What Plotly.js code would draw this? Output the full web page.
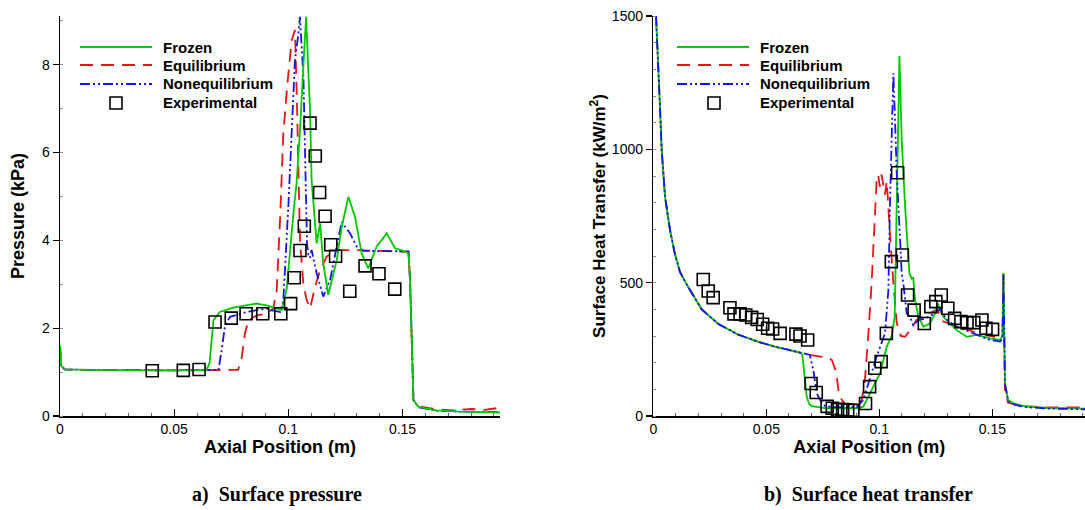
<!DOCTYPE html>
<html><head><meta charset="utf-8">
<script src="https://cdn.plot.ly/plotly-3.0.1.min.js"></script>
<style>html,body{margin:0;padding:0;background:#fff;} #chart{width:1085px;height:510px;}</style>
</head><body><div id="chart"></div>
<script>
// ---------- (a) Surface pressure, kPa ----------
var frozenPx = [0,0.0005,0.002,0.01,0.03,0.05,0.064,0.0655,0.0672,0.07,0.0759,0.0861,0.0905,0.0949,0.0971,0.0993,0.1007,0.1022,0.1036,0.1051,0.1066,0.1078,0.1088,0.1095,0.1102,0.1124,0.1139,0.1153,0.1175,0.1212,0.1234,0.1263,0.1292,0.1321,0.135,0.1387,0.1431,0.1467,0.1504,0.1526,0.1533,0.154,0.1548,0.157,0.165,0.175,0.185,0.193];
var frozenPy = [1.6,1.15,1.06,1.05,1.04,1.04,1.04,1.2,2.18,2.37,2.47,2.56,2.52,2.45,2.41,2.9,3.8,4.6,5.3,6.5,8.0,9.09,7.8,6.97,5.37,3.93,4.39,3.48,2.76,3.55,4.31,4.99,4.54,3.7,3.36,3.86,4.16,3.82,3.76,3.7,3.1,1.58,0.36,0.21,0.13,0.1,0.09,0.08];

var equilPx = [0,0.0005,0.002,0.01,0.05,0.072,0.078,0.0795,0.081,0.0825,0.0861,0.0905,0.0934,0.0949,0.0964,0.0978,0.0996,0.1015,0.1029,0.1037,0.1044,0.1051,0.1066,0.108,0.1095,0.1117,0.1139,0.1168,0.1212,0.13,0.14,0.1526,0.1533,0.154,0.1548,0.157,0.165,0.172,0.18,0.186,0.193];
var equilPy = [1.6,1.15,1.06,1.05,1.04,1.04,1.05,1.3,1.88,2.18,2.29,2.33,2.45,2.86,4.5,6.43,7.57,8.56,8.79,7.3,5.4,4.0,3.0,2.65,2.45,2.94,3.32,3.63,3.78,3.78,3.76,3.74,3.1,1.58,0.36,0.22,0.15,0.13,0.16,0.14,0.19];

var noneqPx = [0,0.0005,0.002,0.01,0.05,0.0694,0.0708,0.0723,0.0745,0.0818,0.0905,0.0934,0.0964,0.0978,0.1,0.1007,0.1029,0.1044,0.1051,0.1066,0.1072,0.1076,0.1082,0.1088,0.1095,0.1102,0.1124,0.1153,0.1183,0.1212,0.1234,0.127,0.13,0.1329,0.14,0.1526,0.1533,0.154,0.1548,0.157,0.165,0.175,0.185,0.193];
var noneqPy = [1.6,1.15,1.06,1.05,1.04,1.05,1.5,2.07,2.26,2.37,2.45,2.4,2.37,2.63,4.77,5.5,8.1,8.7,9.09,7.73,6.4,4.8,3.9,3.67,3.6,3.78,3.25,2.72,3.1,3.86,4.42,4.16,3.86,3.76,3.76,3.75,3.1,1.58,0.36,0.2,0.12,0.1,0.09,0.09];

var expPx = [0.0404,0.054,0.0609,0.0679,0.075,0.0815,0.0888,0.0967,0.101,0.1026,0.1051,0.107,0.1095,0.1118,0.1137,0.1161,0.1186,0.1207,0.1269,0.1336,0.1397,0.1466];
var expPy = [1.03,1.04,1.06,2.14,2.23,2.33,2.33,2.33,2.56,3.15,3.77,4.32,6.67,5.92,5.09,4.55,3.90,3.64,2.84,3.42,3.24,2.89];

// ---------- (b) Surface heat transfer, kW/m^2 ----------
var frozenQx = [0.0012,0.0022,0.003,0.0037,0.0052,0.0074,0.0095,0.0118,0.015,0.0214,0.0288,0.0376,0.0465,0.0538,0.06,0.0655,0.066,0.0668,0.0679,0.069,0.0701,0.0767,0.09,0.0929,0.095,0.0973,0.1003,0.1033,0.1055,0.1068,0.1077,0.1084,0.1089,0.1099,0.1114,0.1133,0.1143,0.115,0.1158,0.1173,0.1195,0.1224,0.1246,0.126,0.1272,0.1283,0.1342,0.1387,0.1431,0.149,0.1534,0.1545,0.1549,0.1553,0.1556,0.157,0.16,0.165,0.175,0.191];
var frozenQy = [1500,1335,1150,1000,822,697,610,540,490,400,345,305,278,260,248,237,225,150,72,45,37,29,29,35,70,110,160,260,300,372,800,1222,1350,1035,785,535,515,520,435,372,335,347,385,422,390,372,322,297,304,291,285,300,535,300,120,60,45,35,30,28];

var equilQx = [0.0012,0.0022,0.003,0.0037,0.0052,0.0074,0.0095,0.0118,0.015,0.0214,0.0288,0.0376,0.0465,0.0538,0.06,0.0655,0.0693,0.0745,0.0775,0.079,0.0805,0.0812,0.0819,0.0834,0.085,0.09,0.0922,0.0935,0.0944,0.0951,0.0966,0.098,0.0988,0.0995,0.1002,0.101,0.1018,0.1025,0.1033,0.104,0.1047,0.1062,0.1077,0.1095,0.1114,0.1136,0.1165,0.12,0.1235,0.1255,0.1283,0.135,0.1416,0.1534,0.1545,0.1549,0.1553,0.1556,0.157,0.1637,0.175,0.191];
var equilQy = [1500,1335,1150,1000,822,697,610,540,490,400,345,305,278,260,248,237,229,222,218,210,175,147,97,60,45,45,60,120,210,300,500,750,880,905,860,905,860,830,880,800,685,500,350,300,297,322,360,375,390,400,354,335,316,291,300,535,300,85,50,37,32,32];

var noneqQx = [0.0012,0.0022,0.003,0.0037,0.0052,0.0074,0.0095,0.0118,0.015,0.0214,0.0288,0.0376,0.0465,0.0538,0.06,0.0655,0.0693,0.0708,0.0723,0.0738,0.076,0.08,0.09,0.0929,0.0959,0.0988,0.1025,0.1033,0.104,0.1047,0.1055,0.1062,0.1068,0.1077,0.1092,0.1099,0.1106,0.1121,0.1136,0.115,0.1173,0.12,0.1235,0.1269,0.13,0.1342,0.1416,0.149,0.1534,0.1545,0.1549,0.1553,0.1556,0.157,0.16,0.165,0.175,0.191];
var noneqQy = [1500,1335,1150,1000,822,697,610,540,490,400,345,305,278,260,248,237,229,172,85,60,37,33,33,60,147,222,310,410,470,785,1100,1285,1150,910,660,535,500,385,372,340,360,365,380,400,360,335,310,285,279,290,530,300,120,55,42,33,28,25];

var expQx = [0.0221,0.0243,0.0265,0.0339,0.0357,0.0384,0.0409,0.0435,0.046,0.0484,0.0506,0.0528,0.0561,0.0631,0.0649,0.0683,0.0698,0.0721,0.0769,0.0792,0.0815,0.0838,0.086,0.0883,0.0939,0.0957,0.098,0.1008,0.1031,0.1053,0.1081,0.1102,0.1125,0.1154,0.1199,0.1228,0.125,0.1274,0.1303,0.1333,0.1361,0.1388,0.1418,0.1454,0.1472,0.1501];
var expQy = [512,469,444,406,383,383,379,370,362,344,329,326,310,307,300,285,122,88,36,29,25,24,22,21,47,110,179,204,310,579,912,604,454,397,347,410,429,454,404,366,354,350,350,360,329,325];

var legendNames = ['Frozen','Equilibrium','Nonequilibrium','Experimental'];
var captions = ['a)  Surface pressure','b)  Surface heat transfer'];

// ---------- styling ----------
var W = 1085, H = 510;
var GREEN = 'rgb(0,200,0)', RED = 'rgb(230,20,20)', BLUE = 'rgb(20,20,240)';
var DASH_EQ = '13px,8px';
var DASH_NE = '10px,3px,2px,3px,2px,3px';
var FONT = 'Liberation Sans, Arial, sans-serif';
function fx(p){return p/W;}
function fy(p){return 1-p/H;}

function lineTrace(x,y,color,dash,xa,ya,name){
  return {x:x,y:y,type:'scatter',mode:'lines',name:name,xaxis:xa,yaxis:ya,
    line:{color:color,width:1.8,dash:dash},hoverinfo:'skip'};
}
function expTrace(x,y,xa,ya){
  return {x:x,y:y,type:'scatter',mode:'markers',name:'Experimental',xaxis:xa,yaxis:ya,
    marker:{symbol:'square-open',size:12,color:'#000',line:{width:1.6,color:'#000'}},hoverinfo:'skip'};
}

var data = [
  lineTrace(equilPx,equilPy,RED,DASH_EQ,'x','y',legendNames[1]),
  lineTrace(noneqPx,noneqPy,BLUE,DASH_NE,'x','y',legendNames[2]),
  lineTrace(frozenPx,frozenPy,GREEN,'solid','x','y',legendNames[0]),
  expTrace(expPx,expPy,'x','y'),
  lineTrace(equilQx,equilQy,RED,DASH_EQ,'x2','y2',legendNames[1]),
  lineTrace(frozenQx,frozenQy,GREEN,'solid','x2','y2',legendNames[0]),
  lineTrace(noneqQx,noneqQy,BLUE,DASH_NE,'x2','y2',legendNames[2]),
  expTrace(expQx,expQy,'x2','y2')
];

var yDom = [fy(416), fy(16)];
function xAxis(dom, rng, anchor){
  return {domain:dom, range:rng, anchor:anchor, autorange:false,
    showline:true, linecolor:'#000', linewidth:1.5, mirror:false,
    showgrid:false, zeroline:false,
    ticks:'inside', ticklen:7, tickwidth:1.3, tickcolor:'#000',
    tickvals:[0,0.05,0.1,0.15], ticktext:['0','0.05','0.1','0.15'],
    minor:{ticks:'inside', ticklen:3, tickwidth:1, tickcolor:'#666', dtick:0.01, tick0:0, showgrid:false},
    tickfont:{family:FONT,size:14,color:'#000'},
    title:{text:'<b>Axial Position (m)</b>', font:{family:FONT,size:18,color:'#000'}, standoff:3},
    automargin:false, fixedrange:true};
}
function yAxis(rng, vals, texts, minorDt, title, tsize, stand, anchor){
  return {domain:yDom, range:rng, anchor:anchor, autorange:false,
    showline:true, linecolor:'#000', linewidth:1.5, mirror:false,
    showgrid:false, zeroline:false,
    ticks:'outside', ticklen:6, tickwidth:1.3, tickcolor:'#000',
    tickvals:vals, ticktext:texts,
    minor:{ticks:'inside', ticklen:3, tickwidth:1, tickcolor:'#888', dtick:minorDt, tick0:0, showgrid:false},
    tickfont:{family:FONT,size:14,color:'#000'},
    title:{text:title, font:{family:FONT,size:tsize,color:'#000'}, standoff:stand},
    automargin:false, fixedrange:true};
}

var shapes = [], annotations = [];
function addLegend(x0, x1, xt, xsq){
  var rows = [47,65,84,103];
  var styles = [[GREEN,'solid'],[RED,DASH_EQ],[BLUE,DASH_NE]];
  for (var i=0;i<3;i++){
    shapes.push({type:'line',xref:'paper',yref:'paper',x0:fx(x0),x1:fx(x1),y0:fy(rows[i]),y1:fy(rows[i]),
      line:{color:styles[i][0],width:1.8,dash:styles[i][1]}});
  }
  shapes.push({type:'rect',xref:'paper',yref:'paper',x0:fx(xsq-6),x1:fx(xsq+6),y0:fy(rows[3]+6),y1:fy(rows[3]-6),
    line:{color:'#000',width:1.6}});
  for (var j=0;j<4;j++){
    annotations.push({xref:'paper',yref:'paper',x:fx(xt),y:fy(rows[j]),xanchor:'left',yanchor:'middle',
      text:'<b>'+legendNames[j]+'</b>',showarrow:false,font:{family:FONT,size:15,color:'#000'}});
  }
}
addLegend(80,152,161,116);
addLegend(677,749,758,714);

annotations.push({xref:'paper',yref:'paper',x:fx(277),y:fy(494),xanchor:'center',yanchor:'middle',
  text:'<b>'+captions[0]+'</b>',showarrow:false,font:{family:'Liberation Serif, Times New Roman, serif',size:20,color:'#000'}});
annotations.push({xref:'paper',yref:'paper',x:fx(868),y:fy(494),xanchor:'center',yanchor:'middle',
  text:'<b>'+captions[1]+'</b>',showarrow:false,font:{family:'Liberation Serif, Times New Roman, serif',size:20,color:'#000'}});

var layout = {
  width:W, height:H, margin:{l:0,r:0,t:0,b:0}, paper_bgcolor:'#fff', plot_bgcolor:'#fff',
  showlegend:false,
  xaxis: xAxis([fx(60),fx(500)],[0,0.1927],'y'),
  yaxis: yAxis([0,9.11],[0,2,4,6,8],['0','2','4','6','8'],1,'<b>Pressure (kPa)</b>',18,12,'x'),
  xaxis2: xAxis([fx(653.3),1],[0,0.191],'y2'),
  yaxis2: yAxis([0,1500],[0,500,1000,1500],['0','500','1000','1500'],100,'<b>Surface Heat Transfer (kW/m<sup>2</sup>)</b>',17,2,'x2'),
  shapes:shapes, annotations:annotations
};

Plotly.newPlot('chart', data, layout, {displayModeBar:false, staticPlot:true});
</script></body></html>
